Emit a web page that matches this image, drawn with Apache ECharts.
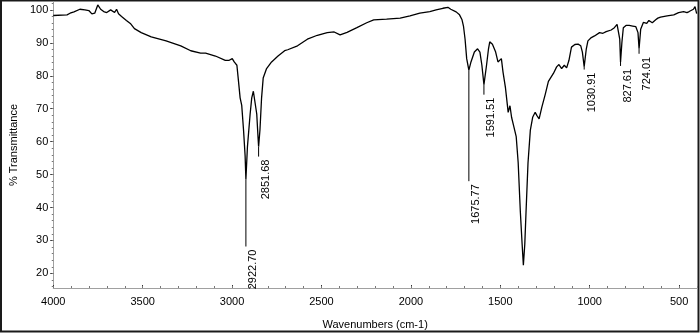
<!DOCTYPE html>
<html>
<head>
<meta charset="utf-8">
<script src="https://cdn.jsdelivr.net/npm/echarts@6/dist/echarts.min.js"></script>
<style>
  html, body { margin: 0; padding: 0; background: #fff; }
  #chart { width: 700px; height: 335px; }
</style>
</head>
<body>
<div id="chart"></div>
<script>
// IR spectrum: wavenumber (cm-1) against % transmittance
const wavenumbers = [
  4000, 3923, 3906, 3884, 3851, 3823, 3801, 3784, 3768, 3751, 3735, 3718, 3701, 3679, 3668, 3657,
  3646, 3635, 3618, 3607, 3591, 3569, 3546, 3508, 3452, 3369, 3287, 3231, 3176, 3148, 3093, 3038,
  3016, 2999, 2988, 2973, 2964, 2955, 2946, 2936, 2927, 2922.70, 2914, 2899, 2890, 2881, 2872, 2862,
  2855, 2851.68, 2844, 2835, 2826, 2807, 2779, 2743, 2706, 2689, 2634, 2579, 2523, 2468, 2429, 2396,
  2357, 2302, 2247, 2208, 2136, 2060, 2005, 1950, 1894, 1859, 1821, 1793, 1777, 1747, 1728, 1714,
  1706, 1697, 1688, 1675.77, 1664, 1645, 1627, 1614, 1603, 1591.51, 1577, 1566, 1559, 1544, 1535, 1526,
  1513, 1504, 1494, 1485, 1471, 1461, 1456, 1446, 1437, 1424, 1411, 1400, 1388, 1378, 1371, 1363,
  1356, 1345, 1332, 1319, 1305, 1295, 1283, 1268, 1249, 1231, 1203, 1185, 1172, 1157, 1142, 1129,
  1116, 1102, 1083, 1065, 1050, 1041, 1030.91, 1019, 1010, 991, 973, 945, 926, 908, 880, 862,
  847, 840, 832, 827.61, 820, 812, 797, 779, 760, 742, 730, 724.01, 715, 700, 681, 669,
  650, 631, 619, 604, 567, 530, 503, 475, 456, 444, 420, 411, 402
];
const transmittance = [
  98.3, 98.5, 99.0, 99.4, 100.2, 100.0, 99.8, 98.8, 99.0, 101.5, 100.2, 99.5, 99.2, 100.0, 100.5, 99.2,
  100.2, 98.8, 98.0, 97.8, 96.8, 95.9, 94.3, 93.1, 91.8, 90.6, 89.1, 87.6, 86.9, 86.9, 86.0, 84.7,
  84.7, 85.2, 84.2, 83.2, 78.3, 73.3, 71.0, 63.6, 55.6, 48.5, 58.5, 68.4, 73.3, 75.3, 74.8, 68.4,
  61.5, 58.5, 63.6, 73.3, 79.3, 82.2, 84.2, 86.0, 87.6, 87.9, 89.1, 91.1, 92.3, 93.1, 93.3, 92.4,
  93.2, 94.6, 96.1, 97.0, 97.2, 97.5, 98.2, 99.0, 99.5, 100.0, 100.5, 100.8, 100.2, 99.4, 98.5, 97.0,
  95.1, 91.1, 85.2, 81.7, 84.2, 87.2, 88.2, 87.2, 83.2, 77.3, 83.2, 88.2, 90.3, 89.6, 90.1, 87.2,
  84.2, 84.6, 85.2, 81.2, 76.3, 71.4, 68.9, 70.9, 67.4, 64.5, 61.5, 53.6, 38.8, 28.9, 22.5, 28.9,
  38.8, 53.6, 63.5, 67.4, 68.9, 67.9, 66.9, 70.4, 74.3, 78.3, 80.7, 82.7, 83.4, 82.2, 83.2, 82.4,
  84.7, 88.7, 89.5, 89.6, 89.1, 87.2, 82.8, 88.2, 90.6, 91.6, 92.1, 93.1, 92.9, 93.4, 93.9, 94.6,
  95.6, 95.3, 91.1, 84.2, 90.1, 94.6, 95.3, 95.3, 95.1, 94.9, 93.1, 88.2, 94.1, 96.2, 95.9, 96.8,
  96.1, 97.0, 97.5, 97.8, 98.2, 98.5, 99.2, 99.5, 99.2, 99.5, 100.2, 101.0, 98.9
];

// Picked peaks
const peakWavenumbers = [2922.70, 2851.68, 1675.77, 1591.51, 1030.91, 827.61, 724.01];
const peakTransmittance = [48.5, 58.5, 81.7, 77.3, 82.8, 84.2, 88.2];
const peakLabels = ['2922.70', '2851.68', '1675.77', '1591.51', '1030.91', '827.61', '724.01'];

// Tick labels
const xTicks = [4000, 3500, 3000, 2500, 2000, 1500, 1000, 500];
const yTicks = [20, 30, 40, 50, 60, 70, 80, 90, 100];

// Leader line length (px) below each peak before its label
const leaderPx = [67, 10, 111, 10, 3, 4, 5];

const xMinor = [];
for (let w = 400; w <= 4000; w += 100) xMinor.push(w);
const yMinor = [];
for (let t = 16; t <= 102; t += 2) yMinor.push(t);

const spectrum = wavenumbers.map((w, i) => [w, transmittance[i]]);
const peaks = peakWavenumbers.map((w, i) => [w, peakTransmittance[i]]);

const tickFont = "'Liberation Sans Narrow', 'Liberation Sans', Arial, sans-serif";
const axisGrey = '#a0a0a0';
const plain = v => String(v);

const chart = echarts.init(document.getElementById('chart'), null, { renderer: 'canvas' });
chart.setOption({
  animation: false,
  backgroundColor: '#fff',
  grid: { left: 46, right: 3, top: 2, bottom: 40, containLabel: false },
  xAxis: [{
    type: 'value', inverse: true, min: 400, max: 4000,
    name: 'Wavenumbers (cm-1)', nameLocation: 'middle', nameGap: 31,
    nameTextStyle: { fontFamily: tickFont, fontSize: 11, color: '#000' },
    axisLine: { show: true, onZero: false, lineStyle: { color: axisGrey, width: 1 } },
    axisTick: { show: true, inside: true, length: 3, customValues: xTicks, lineStyle: { color: '#333' } },
    axisLabel: { customValues: xTicks, formatter: plain, fontFamily: tickFont, fontSize: 11, color: '#000', margin: 8 },
    splitLine: { show: false }
  }, {
    type: 'value', inverse: true, min: 400, max: 4000, position: 'bottom',
    axisLine: { show: false },
    axisTick: { show: true, inside: true, length: 2, customValues: xMinor, lineStyle: { color: '#777' } },
    axisLabel: { show: false },
    splitLine: { show: false }
  }],
  yAxis: [{
    type: 'value', min: 15.56, max: 102.4,
    name: '% Transmittance', nameLocation: 'middle', nameGap: 34,
    nameTextStyle: { fontFamily: "'Liberation Sans', Arial, sans-serif", fontSize: 11, color: '#000' },
    axisLine: { show: true, onZero: false, lineStyle: { color: axisGrey, width: 1 } },
    axisTick: { show: true, length: 3, customValues: yTicks, lineStyle: { color: '#333' } },
    axisLabel: { customValues: yTicks, formatter: plain, fontFamily: tickFont, fontSize: 11, color: '#000', margin: 5 },
    splitLine: { show: false }
  }, {
    type: 'value', min: 15.56, max: 102.4, position: 'left',
    axisLine: { show: false },
    axisTick: { show: true, length: 1.5, customValues: yMinor, lineStyle: { color: '#777' } },
    axisLabel: { show: false },
    splitLine: { show: false }
  }],
  series: [{
    type: 'line',
    data: spectrum,
    showSymbol: false,
    smooth: false,
    lineStyle: { color: '#000', width: 1.3 },
    silent: true
  }, {
    type: 'custom',
    data: peaks,
    silent: true,
    renderItem: function (params, api) {
      const i = params.dataIndex;
      const p = api.coord([api.value(0), api.value(1)]);
      const len = leaderPx[i];
      return {
        type: 'group',
        children: [{
          type: 'line',
          shape: { x1: p[0], y1: p[1], x2: p[0], y2: p[1] + len },
          style: { stroke: '#000', lineWidth: 1 }
        }, {
          type: 'text',
          x: p[0] + 2, y: p[1] + len + 3,
          rotation: Math.PI / 2,
          style: {
            text: peakLabels[i],
            font: "11px 'Liberation Sans', Arial, sans-serif",
            fill: '#000', align: 'right', verticalAlign: 'top'
          }
        }]
      };
    }
  }],
  graphic: [{
    type: 'rect', silent: true,
    shape: { x: 1, y: 0.5, width: 697.5, height: 331 },
    style: { fill: 'none', stroke: '#1a1a1a', lineWidth: 2 }
  }]
});
</script>
</body>
</html>
